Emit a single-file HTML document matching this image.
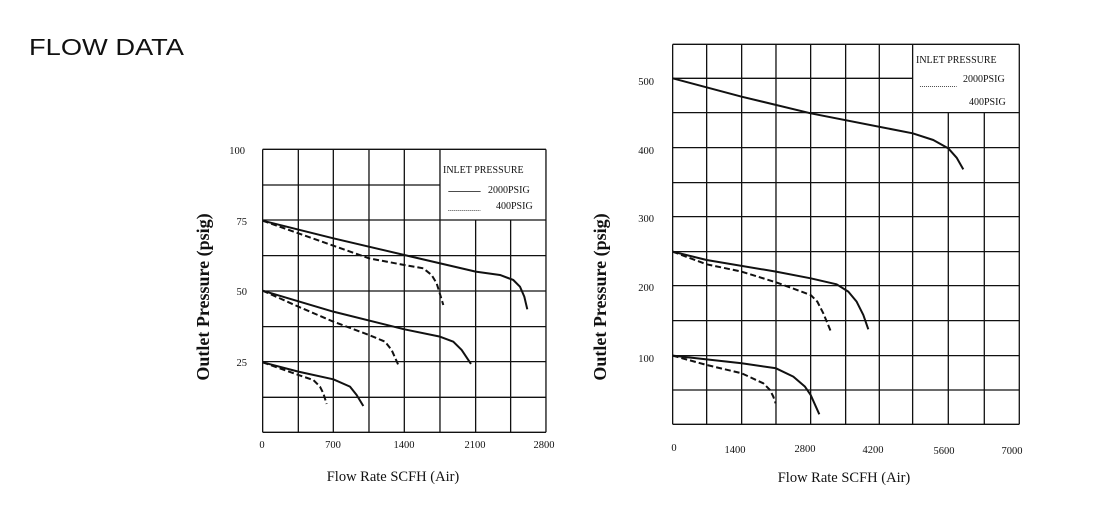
<!DOCTYPE html>
<html><head><meta charset="utf-8"><style>
body{margin:0;background:#fff;width:1103px;height:506px;overflow:hidden}
svg text{font-family:"Liberation Serif",serif;fill:#111}
</style></head><body>
<svg width="1103" height="506" viewBox="0 0 1103 506" xmlns="http://www.w3.org/2000/svg">
<text x="29" y="55" style="font-family:'Liberation Sans',sans-serif;font-size:23px" textLength="155" lengthAdjust="spacingAndGlyphs">FLOW DATA</text>

<!-- Chart 1 -->
<g transform="translate(190,140) scale(0.3333)" fill="none" stroke="#111">
  <path vector-effect="non-scaling-stroke" stroke-width="1.3" d="M218,28V877 M325,28V877 M430,28V877 M537,28V877 M643,28V877 M750,28V877 M857,240V877 M962,240V877 M1068,28V877
  M218,28H1068 M218,135H750 M218,240H1068 M218,347H1068 M218,453H1068 M218,560H1068 M218,665H1068 M218,772H1068 M218,877H1068"/>
  <g stroke-width="2" stroke-linejoin="round">
  <polyline vector-effect="non-scaling-stroke" points="218,242 430,295 643,345 857,395 930,405 970,420 990,440 1003,470 1012,508"/>
  <polyline vector-effect="non-scaling-stroke" stroke-dasharray="6,3" points="218,242 325,280 537,355 643,375 700,385 725,405 740,430 760,495"/>
  <polyline vector-effect="non-scaling-stroke" points="218,452 430,515 643,568 750,590 790,605 815,630 843,672"/>
  <polyline vector-effect="non-scaling-stroke" stroke-dasharray="6,3" points="218,452 325,500 430,545 537,585 585,605 605,630 625,675"/>
  <polyline vector-effect="non-scaling-stroke" points="218,667 325,695 430,718 480,740 500,765 520,798"/>
  <polyline vector-effect="non-scaling-stroke" stroke-dasharray="6,3" points="218,667 325,705 370,720 390,740 400,760 410,792"/>
  </g>
  <path vector-effect="non-scaling-stroke" stroke-width="0.8" d="M775,155H872"/>
  <path vector-effect="non-scaling-stroke" stroke-width="0.8" stroke-dasharray="1,1" d="M775,212H872"/>
</g>
<g font-size="10.5">
<text x="443" y="173" font-size="10">INLET PRESSURE</text>
<text x="488" y="193" font-size="10">2000PSIG</text>
<text x="496" y="209" font-size="10">400PSIG</text>
<g text-anchor="end">
<text x="245" y="154">100</text><text x="247" y="225">75</text><text x="247" y="295">50</text><text x="247" y="366">25</text>
</g>
<g text-anchor="middle">
<text x="262" y="448">0</text><text x="333" y="448">700</text><text x="404" y="448">1400</text><text x="475" y="448">2100</text><text x="544" y="448">2800</text>
</g>
</g>
<text transform="translate(209,297) rotate(-90)" text-anchor="middle" font-size="18" font-weight="bold">Outlet  Pressure (psig)</text>
<text x="393" y="481" text-anchor="middle" font-size="14.5">Flow Rate SCFH  (Air)</text>

<!-- Chart 2 -->
<g transform="translate(590,35) scale(0.3333)" fill="none" stroke="#111">
  <path vector-effect="non-scaling-stroke" stroke-width="1.3" d="M248,28V1168 M350,28V1168 M455,28V1168 M558,28V1168 M662,28V1168 M767,28V1168 M868,28V1168 M968,28V1168 M1075,233V1168 M1183,233V1168 M1288,28V1168
  M248,28H1288 M248,130H968 M248,233H1288 M248,338H1288 M248,443H1288 M248,545H1288 M248,650H1288 M248,752H1288 M248,857H1288 M248,962H1288 M248,1065H1288 M248,1168H1288"/>
  <g stroke-width="2" stroke-linejoin="round">
  <polyline vector-effect="non-scaling-stroke" points="248,130 455,185 662,235 968,295 1030,315 1075,340 1100,368 1120,403"/>
  <polyline vector-effect="non-scaling-stroke" points="248,650 350,675 558,710 662,730 740,748 775,770 800,800 820,840 835,883"/>
  <polyline vector-effect="non-scaling-stroke" stroke-dasharray="6,3" points="248,650 350,688 455,710 558,742 662,780 682,800 700,835 722,888"/>
  <polyline vector-effect="non-scaling-stroke" points="248,962 455,985 558,1000 610,1025 645,1055 662,1080 688,1138"/>
  <polyline vector-effect="non-scaling-stroke" stroke-dasharray="6,3" points="248,962 350,990 455,1015 520,1045 540,1065 550,1085 557,1105"/>
  </g>
  <path vector-effect="non-scaling-stroke" stroke-width="0.8" stroke-dasharray="1,1" d="M990,155H1100"/>
</g>
<g font-size="10.5">
<text x="916" y="63" font-size="10">INLET PRESSURE</text>
<text x="963" y="82" font-size="10">2000PSIG</text>
<text x="969" y="105" font-size="10">400PSIG</text>
<g text-anchor="end">
<text x="654" y="85">500</text><text x="654" y="154">400</text><text x="654" y="222">300</text><text x="654" y="291">200</text><text x="654" y="362">100</text>
</g>
<g text-anchor="middle">
<text x="674" y="451">0</text><text x="735" y="453">1400</text><text x="805" y="452">2800</text><text x="873" y="453">4200</text><text x="944" y="454">5600</text><text x="1012" y="454">7000</text>
</g>
</g>
<text transform="translate(606,297) rotate(-90)" text-anchor="middle" font-size="18" font-weight="bold">Outlet  Pressure (psig)</text>
<text x="844" y="482" text-anchor="middle" font-size="14.5">Flow Rate SCFH  (Air)</text>
</svg>
</body></html>
